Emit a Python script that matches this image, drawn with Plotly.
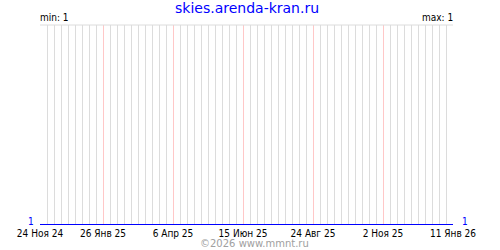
import plotly.graph_objects as go

dates = ["2024-11-24", "2025-01-26", "2025-04-06", "2025-06-15",
         "2025-08-24", "2025-11-02", "2026-01-11"]
values = [1, 1, 1, 1, 1, 1, 1]
tick_vals = ["2024-11-24", "2025-01-26", "2025-04-06", "2025-06-15",
             "2025-08-24", "2025-11-02", "2026-01-11"]
tick_text = ["24 Ноя 24", "26 Янв 25", "6 Апр 25", "15 Июн 25",
             "24 Авг 25", "2 Ноя 25", "11 Янв 26"]
title = "skies.arenda-kran.ru"
footer = "©2026 www.mmnt.ru"

vmin, vmax = min(values), max(values)
FONT = "DejaVu Sans"
SMALL = "DejaVu Sans Condensed, Liberation Sans Narrow, DejaVu Sans"

fig = go.Figure()
fig.add_trace(go.Scatter(x=dates, y=values, mode="lines",
                         line=dict(color="#0000ff", width=2),
                         hoverinfo="skip", showlegend=False))

fig.update_layout(
    width=500, height=250,
    margin=dict(l=40, r=47, t=25, b=25),
    paper_bgcolor="white", plot_bgcolor="white",
    font=dict(family=SMALL, size=10, color="black"),
    xaxis=dict(
        type="date", range=[dates[0], dates[-1]],
        tickmode="array", tickvals=tick_vals, ticktext=tick_text,
        showgrid=True, gridcolor="#ffc8c8", gridwidth=1,
        ticks="", showline=False, zeroline=False,
        ticklabelstandoff=1,
        tickfont=dict(family=SMALL, size=10, color="black"),
        minor=dict(tickmode="linear", tick0=dates[0], dtick=7 * 86400000,
                   showgrid=True, gridcolor="#dcdcdc", gridwidth=1, ticks=""),
    ),
    yaxis=dict(
        range=[vmin, vmin + 1], showticklabels=False, showgrid=False,
        zeroline=False, showline=False, ticks="",
    ),
    shapes=[dict(type="line", xref="paper", yref="paper", x0=0, x1=1,
                 y0=1, y1=1, line=dict(color="#dcdcdc", width=1))],
    annotations=[
        dict(text=title, xref="paper", yref="paper", x=0.5, y=1,
             yshift=17, xanchor="center", yanchor="middle", showarrow=False,
             font=dict(family=FONT, size=14, color="#0000ff")),
        dict(text=f"min: {vmin}", xref="paper", yref="paper", x=0, y=1,
             xanchor="left", yanchor="bottom", showarrow=False, yshift=0,
             xshift=-2,
             font=dict(family=SMALL, size=10, color="black")),
        dict(text=f"max: {vmax}", xref="paper", yref="paper", x=1, y=1,
             xanchor="right", yanchor="bottom", showarrow=False, yshift=0,
             xshift=2,
             font=dict(family=SMALL, size=10, color="black")),
        dict(text=str(values[0]), x=dates[0], y=values[0], xref="x", yref="y",
             xanchor="right", yanchor="bottom", showarrow=False,
             xshift=-5, yshift=-3, borderpad=0,
             font=dict(family=SMALL, size=10, color="#0000ff")),
        dict(text=str(values[-1]), x=dates[-1], y=values[-1], xref="x", yref="y",
             xanchor="left", yanchor="bottom", showarrow=False,
             xshift=8, yshift=-3, borderpad=0,
             font=dict(family=SMALL, size=10, color="#0000ff")),
        dict(text=footer, xref="paper", yref="paper", x=0.519, y=0,
             yshift=-25, xanchor="center", yanchor="bottom", showarrow=False,
             borderpad=0,
             font=dict(family=FONT, size=10, color="#a0a0a0")),
    ],
)

fig.write_html("out.html")
